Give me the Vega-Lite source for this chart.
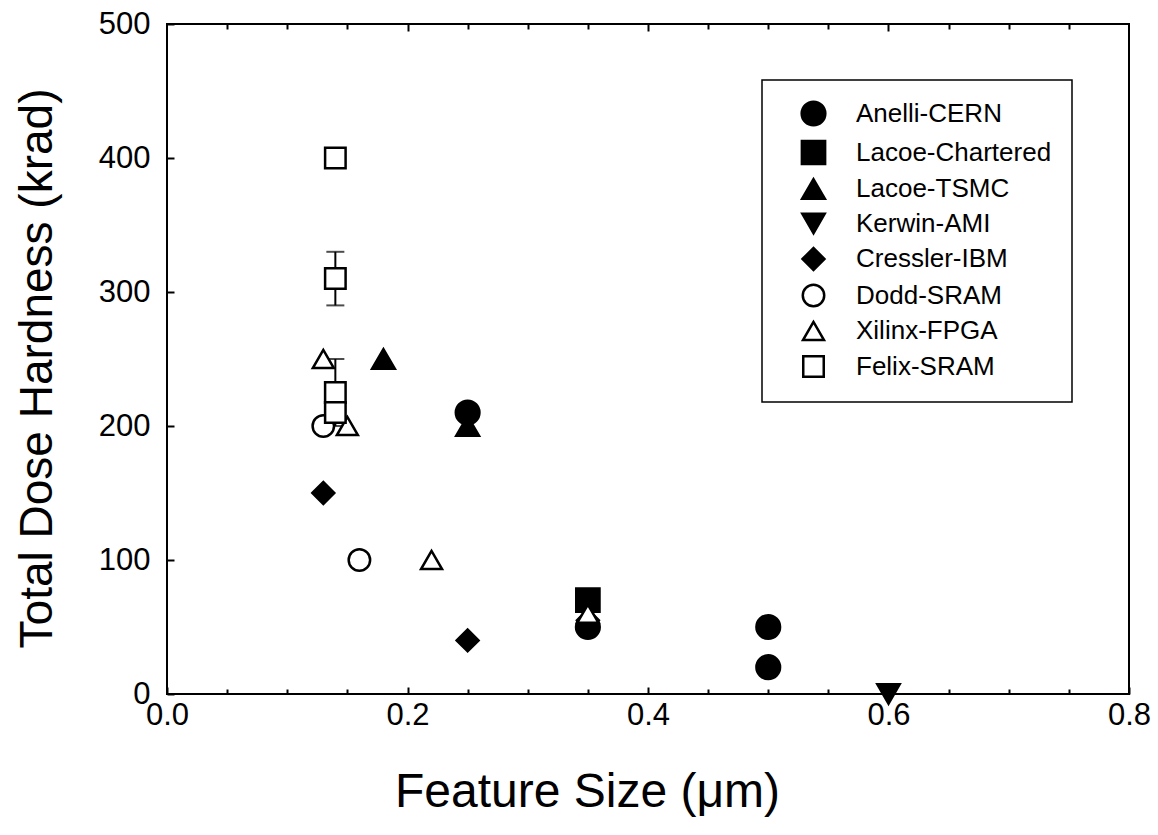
{
  "$schema": "https://vega.github.io/schema/vega-lite/v6.json",
  "autosize": {"type": "none"},
  "width": 962,
  "height": 670,
  "padding": {"left": 167, "top": 24, "right": 29, "bottom": 141},
  "background": "white",
  "config": {
    "font": "Liberation Sans",
    "view": {"stroke": "black", "strokeWidth": 2},
    "axis": {"grid": false, "domain": false, "tickColor": "black", "tickWidth": 2, "labelColor": "black", "titleColor": "black", "labelFont": "Liberation Sans", "titleFont": "Liberation Sans", "titleFontWeight": "normal"},
    "legend": {"strokeWidth": 1.5}
  },
  "datasets": {
    "pts": [
      {"series": "Anelli-CERN", "size_um": 0.25, "dose": 210},
      {"series": "Anelli-CERN", "size_um": 0.35, "dose": 50},
      {"series": "Anelli-CERN", "size_um": 0.5, "dose": 50},
      {"series": "Anelli-CERN", "size_um": 0.5, "dose": 20},
      {"series": "Lacoe-Chartered", "size_um": 0.35, "dose": 70},
      {"series": "Lacoe-TSMC", "size_um": 0.18, "dose": 250},
      {"series": "Lacoe-TSMC", "size_um": 0.25, "dose": 200},
      {"series": "Kerwin-AMI", "size_um": 0.6, "dose": 0},
      {"series": "Cressler-IBM", "size_um": 0.13, "dose": 150},
      {"series": "Cressler-IBM", "size_um": 0.25, "dose": 40},
      {"series": "Cressler-IBM", "size_um": 0.35, "dose": 55},
      {"series": "Dodd-SRAM", "size_um": 0.13, "dose": 200},
      {"series": "Dodd-SRAM", "size_um": 0.16, "dose": 100},
      {"series": "Xilinx-FPGA", "size_um": 0.13, "dose": 250},
      {"series": "Xilinx-FPGA", "size_um": 0.15, "dose": 200},
      {"series": "Xilinx-FPGA", "size_um": 0.22, "dose": 100},
      {"series": "Xilinx-FPGA", "size_um": 0.35, "dose": 60},
      {"series": "Felix-SRAM", "size_um": 0.14, "dose": 400},
      {"series": "Felix-SRAM", "size_um": 0.14, "dose": 310},
      {"series": "Felix-SRAM", "size_um": 0.14, "dose": 225},
      {"series": "Felix-SRAM", "size_um": 0.14, "dose": 210}
    ],
    "err": [
      {"series": "Felix-SRAM", "size_um": 0.14, "dose": 310, "lo": 290, "hi": 330},
      {"series": "Felix-SRAM", "size_um": 0.14, "dose": 225, "lo": 200, "hi": 250}
    ]
  },
  "resolve": {"axis": {"x": "independent", "y": "independent"}},
  "layer": [
    {
      "data": {"name": "err"},
      "mark": {"type": "rule", "color": "black", "strokeWidth": 2},
      "encoding": {
        "x": {"field": "size_um", "type": "quantitative", "scale": {"domain": [0, 0.8], "nice": false, "zero": false},
              "axis": {"orient": "top", "values": [0.05, 0.1, 0.15, 0.2, 0.25, 0.3, 0.35, 0.4, 0.45, 0.5, 0.55, 0.6, 0.65, 0.7, 0.75], "labels": false, "title": null,
                       "tickSize": {"condition": {"test": "round(datum.value*20) % 4 == 0", "value": -7}, "value": -5}}},
        "y": {"field": "lo", "type": "quantitative", "scale": {"domain": [0, 500], "nice": false}, "axis": null},
        "y2": {"field": "hi"}
      }
    },
    {
      "data": {"name": "err"},
      "mark": {"type": "tick", "orient": "horizontal", "color": "black", "size": 18, "thickness": 2},
      "encoding": {
        "x": {"field": "size_um", "type": "quantitative", "axis": null},
        "y": {"field": "lo", "type": "quantitative", "axis": null}
      }
    },
    {
      "data": {"name": "err"},
      "mark": {"type": "tick", "orient": "horizontal", "color": "black", "size": 18, "thickness": 2},
      "encoding": {
        "x": {"field": "size_um", "type": "quantitative", "axis": null},
        "y": {"field": "hi", "type": "quantitative", "axis": null}
      }
    },
    {
      "data": {"name": "pts"},
      "mark": {"type": "point", "filled": true, "opacity": 1, "stroke": "black", "strokeWidth": 2.5},
      "encoding": {
        "x": {"field": "size_um", "type": "quantitative",
              "axis": {"orient": "bottom", "values": [0, 0.05, 0.1, 0.15, 0.2, 0.25, 0.3, 0.35, 0.4, 0.45, 0.5, 0.55, 0.6, 0.65, 0.7, 0.75, 0.8],
                       "labelExpr": "round(datum.value*20) % 4 == 0 ? format(datum.value, '.1f') : ''",
                       "labelFontSize": 31, "labelPadding": 13, "labelFlush": false, "labelOverlap": false,
                       "tickSize": {"condition": {"test": "round(datum.value*20) % 4 == 0", "value": -7}, "value": -5},
                       "title": "Feature Size (μm)", "titleFontSize": 48, "titleBaseline": "alphabetic", "titleY": 112, "titleX": 420, "titleAlign": "center"}},
        "y": {"field": "dose", "type": "quantitative",
              "axis": {"orient": "left", "values": [0, 100, 200, 300, 400, 500], "labelFontSize": 31, "labelPadding": 24,
                       "tickSize": -7, "title": "Total Dose Hardness (krad)", "titleFontSize": 46, "titleBaseline": "alphabetic", "titleX": -116, "titleY": 344, "titleAngle": -90}},
        "shape": {"field": "series", "type": "nominal",
                  "scale": {"domain": ["Anelli-CERN", "Lacoe-Chartered", "Lacoe-TSMC", "Kerwin-AMI", "Cressler-IBM", "Dodd-SRAM", "Xilinx-FPGA", "Felix-SRAM"],
                            "range": ["circle", "square", "triangle-up", "triangle-down", "diamond", "circle", "triangle-up", "square"]},
                  "legend": {"orient": "none", "legendX": 595, "legendY": 56, "title": null, "fillColor": "white", "strokeColor": "black",
                             "padding": 20, "symbolOffset": 18, "labelFontSize": 26, "labelFont": "Liberation Sans", "labelColor": "black", "rowPadding": 4.5, "labelOffset": 29, "labelLimit": 0,
                             "symbolStrokeColor": "black", "symbolStrokeWidth": 2.5}},
        "fill": {"field": "series", "type": "nominal",
                 "scale": {"domain": ["Anelli-CERN", "Lacoe-Chartered", "Lacoe-TSMC", "Kerwin-AMI", "Cressler-IBM", "Dodd-SRAM", "Xilinx-FPGA", "Felix-SRAM"],
                           "range": ["black", "black", "black", "black", "black", "white", "white", "white"]}},
        "size": {"field": "series", "type": "nominal",
                 "scale": {"domain": ["Anelli-CERN", "Lacoe-Chartered", "Lacoe-TSMC", "Kerwin-AMI", "Cressler-IBM", "Dodd-SRAM", "Xilinx-FPGA", "Felix-SRAM"],
                           "range": [560, 420, 560, 620, 700, 480, 560, 380]}}
      }
    }
  ]
}
